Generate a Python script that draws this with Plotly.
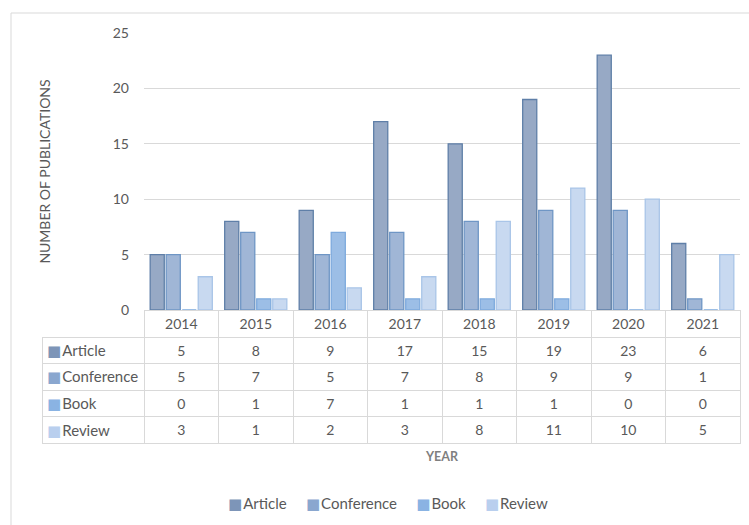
import plotly.graph_objects as go

W, H = 749, 525

years = ["2014", "2015", "2016", "2017", "2018", "2019", "2020", "2021"]
article = [5, 8, 9, 17, 15, 19, 23, 6]
conference = [5, 7, 5, 7, 8, 9, 9, 1]
book = [0, 1, 7, 1, 1, 1, 0, 0]
review = [3, 1, 2, 3, 8, 11, 10, 5]

series_names = ["Article", "Conference", "Book", "Review"]
series_values = [article, conference, book, review]
fill_colors = ["#97A9C5", "#A0B6D6", "#9CBEE6", "#C8D9F0"]
line_colors = ["#5F7FA8", "#6F96C5", "#7EAADD", "#A9C5E8"]
key_colors = ["#7D95B8", "#8AA7CF", "#8AB3E3", "#B9CFEE"]

y_ticks = [0, 5, 10, 15, 20, 25]

FONT = "Lato, Carlito, 'Open Sans', sans-serif"
GRAY = "#595959"

# pixel layout helpers
TABLE_TOP, HEADER_H, ROW_H = 310, 27, 26.6


def px_x(p):
    return p / W


def px_y(p):
    return 1 - p / H


def key(color, text):
    return (f"<span style='color:{color};font-family:DejaVu Sans;font-size:15px'>■</span>"
            f"<span style='font-size:4px'>\u00a0</span>{text}")


fig = go.Figure()

for name, vals, fc, lc in zip(series_names, series_values, fill_colors, line_colors):
    fig.add_trace(go.Bar(
        x=years, y=vals, name=name,
        marker=dict(color=fc, line=dict(color=lc, width=1.3)),
        xaxis="x", yaxis="y", showlegend=False,
    ))

# data table
columns = [[""] * len(series_names)]
for i in range(len(years)):
    columns.append([str(v[i]) for v in series_values])

table_bottom = TABLE_TOP + HEADER_H + ROW_H * len(series_names)
fig.add_trace(go.Table(
    domain=dict(x=[px_x(42), px_x(740)], y=[px_y(table_bottom + 1), px_y(TABLE_TOP)]),
    columnwidth=[102] + [74.5] * len(years),
    header=dict(
        values=[""] + years,
        height=HEADER_H,
        align="center",
        fill=dict(color=["rgba(0,0,0,0)"] + ["white"] * len(years)),
        line=dict(color=["rgba(0,0,0,0)"] + ["#D9D9D9"] * len(years), width=1),
        font=dict(family=FONT, size=14, color=GRAY),
    ),
    cells=dict(
        values=columns,
        height=ROW_H,
        align=["left"] + ["center"] * len(years),
        fill=dict(color="white"),
        line=dict(color="#D9D9D9", width=1),
        font=dict(family=FONT, size=14, color=GRAY),
    ),
))

annotations = [dict(
    text="<b>YEAR</b>", x=(px_x(144) + px_x(740)) / 2, y=px_y(456), yanchor="middle",
    xref="paper", yref="paper", showarrow=False,
    font=dict(family=FONT, size=12.5, color="#7F7F7F"),
)]

# row labels of the data table with their colour keys
for i, (name, kc) in enumerate(zip(series_names, key_colors)):
    yc = TABLE_TOP + HEADER_H + ROW_H * (i + 0.5)
    annotations.append(dict(
        text=key(kc, name), x=px_x(45), y=px_y(yc), xanchor="left", yanchor="middle",
        xref="paper", yref="paper", showarrow=False,
        font=dict(family=FONT, size=15, color=GRAY),
    ))

# bottom legend
sep = "\u00a0" * 5
legend_text = sep.join(key(kc, n) for n, kc in zip(series_names, key_colors))
annotations.append(dict(
    text=legend_text, x=px_x(388), y=px_y(503), xanchor="center", yanchor="middle",
    xref="paper", yref="paper", showarrow=False,
    font=dict(family=FONT, size=15, color=GRAY),
))

fig.update_layout(
    width=W, height=H,
    margin=dict(l=0, r=0, t=0, b=0, autoexpand=False),
    paper_bgcolor="white", plot_bgcolor="white",
    barmode="group", bargap=0.14, bargroupgap=0.12,
    font=dict(family=FONT, size=13, color=GRAY),
    xaxis=dict(
        domain=[px_x(144), px_x(740)], automargin=False,
        showticklabels=False, showgrid=False, zeroline=False,
        showline=False, ticks="",
    ),
    yaxis=dict(
        domain=[px_y(310), px_y(33)], automargin=False,
        range=[0, 25], tickvals=y_ticks,
        showgrid=True, gridcolor="#D9D9D9", gridwidth=1,
        zeroline=False, showline=False,
        tickfont=dict(family=FONT, size=14, color=GRAY),
        ticklabelstandoff=14,
        title=dict(text="NUMBER OF PUBLICATIONS", font=dict(family=FONT, size=14, color=GRAY), standoff=58),
    ),
    showlegend=False,
    annotations=annotations,
    shapes=[
        dict(type="line", xref="paper", yref="paper", x0=px_x(11), x1=1.05, y0=px_y(13), y1=px_y(13),
             line=dict(color="#D9D9D9", width=1)),
        dict(type="line", xref="paper", yref="paper", x0=px_x(11), x1=px_x(11), y0=px_y(13), y1=-0.05,
             line=dict(color="#D9D9D9", width=1)),
    ],
)

fig.write_html("out.html")
